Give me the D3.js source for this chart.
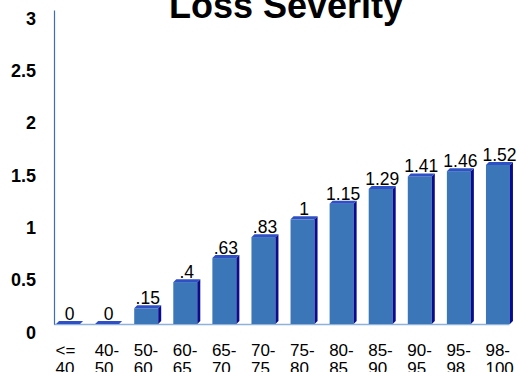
<!DOCTYPE html>
<html>
<head>
<meta charset="utf-8">
<script src="https://cdn.jsdelivr.net/npm/d3@7"></script>
<style>
  html, body { margin: 0; padding: 0; background: #fff; }
  svg { display: block; font-family: Arial, "Liberation Sans", sans-serif; }
</style>
</head>
<body>
<script>
// Loss severity by band
const categories = ["<=40", "40-50", "50-60", "60-65", "65-70", "70-75", "75-80", "80-85", "85-90", "90-95", "95-98", "98-100"];
const severity = [0, 0, 0.15, 0.4, 0.63, 0.83, 1, 1.15, 1.29, 1.41, 1.46, 1.52];
const yTicks = [0, 0.5, 1, 1.5, 2, 2.5, 3];
const title = "Loss Severity";

const W = 519, H = 372;
const svg = d3.select("body").append("svg").attr("width", W).attr("height", H);

const x = d3.scaleBand().domain(categories).range([48.5, 517.5]).paddingInner(0.386).paddingOuter(0.193);
const y = d3.scaleLinear().domain([0, 3]).range([324, 10]);
const depth = 3;
const base = y(0);

// title
svg.append("text")
  .attr("x", 286).attr("y", 18)
  .attr("text-anchor", "middle")
  .attr("font-size", 36).attr("font-weight", "bold")
  .attr("fill", "#000")
  .text(title);

// floor line
svg.append("line")
  .attr("x1", 54).attr("x2", x.range()[1] - 8)
  .attr("y1", base + 0.5).attr("y2", base + 0.5)
  .attr("stroke", "#8fb2da").attr("stroke-width", 1.5);

// y axis
const yAxis = svg.append("g")
  .attr("transform", "translate(54,0)")
  .call(d3.axisLeft(y).tickValues(yTicks).tickSize(0).tickPadding(18).tickFormat(d3.format("")));
yAxis.select(".domain").attr("stroke", "#3d6db4").attr("stroke-width", 1.2);
yAxis.selectAll("text")
  .attr("dy", 14)
  .attr("font-size", 18).attr("font-weight", "bold")
  .attr("font-family", "Arial, 'Liberation Sans', sans-serif")
  .attr("fill", "#000");

// bars with a small 3D extrusion
const bars = svg.append("g").selectAll("g").data(categories).join("g");
bars.each(function (c, i) {
  const g = d3.select(this);
  const v = severity[i];
  const x0 = x(c), x1 = x0 + x.bandwidth(), yt = y(v);
  g.append("rect")
    .attr("x", x0).attr("y", yt)
    .attr("width", x.bandwidth()).attr("height", base - yt)
    .attr("fill", "#3a76b8");
  g.append("polygon")
    .attr("points", [[x1, yt], [x1 + depth, yt - depth], [x1 + depth, base - depth], [x1, base]].join(" "))
    .attr("fill", "#0b0b8e");
  g.append("polygon")
    .attr("points", [[x0, yt], [x0 + depth, yt - depth], [x1 + depth, yt - depth], [x1, yt]].join(" "))
    .attr("fill", "#2f4fc4");
});

// value labels
const fmt = v => String(v).replace(/^0\./, ".");
svg.append("g").selectAll("text").data(categories).join("text")
  .attr("x", (c) => x(c) + x.bandwidth() / 2 + 1.5)
  .attr("y", (c, i) => y(severity[i]) - 4)
  .attr("text-anchor", "middle")
  .attr("font-size", 17.5)
  .attr("fill", "#000")
  .text((c, i) => fmt(severity[i]));

// x axis labels, wrapped on two lines
const xAxis = svg.append("g")
  .attr("transform", `translate(0,${base})`)
  .call(d3.axisBottom(x).tickSize(0).tickFormat(""));
xAxis.select(".domain").remove();
xAxis.selectAll(".tick").each(function (c) {
  const parts = c.startsWith("<=") ? ["<=", c.slice(2)] : [c.split("-")[0] + "-", c.split("-")[1]];
  const t = d3.select(this).append("text")
    .attr("fill", "#000").attr("font-size", 17)
    .attr("font-family", "Arial, 'Liberation Sans', sans-serif")
    .attr("text-anchor", "start");
  t.append("tspan").attr("x", -12.5).attr("y", 32).text(parts[0]);
  t.append("tspan").attr("x", -12.5).attr("y", 50).text(parts[1]);
});
</script>
</body>
</html>
